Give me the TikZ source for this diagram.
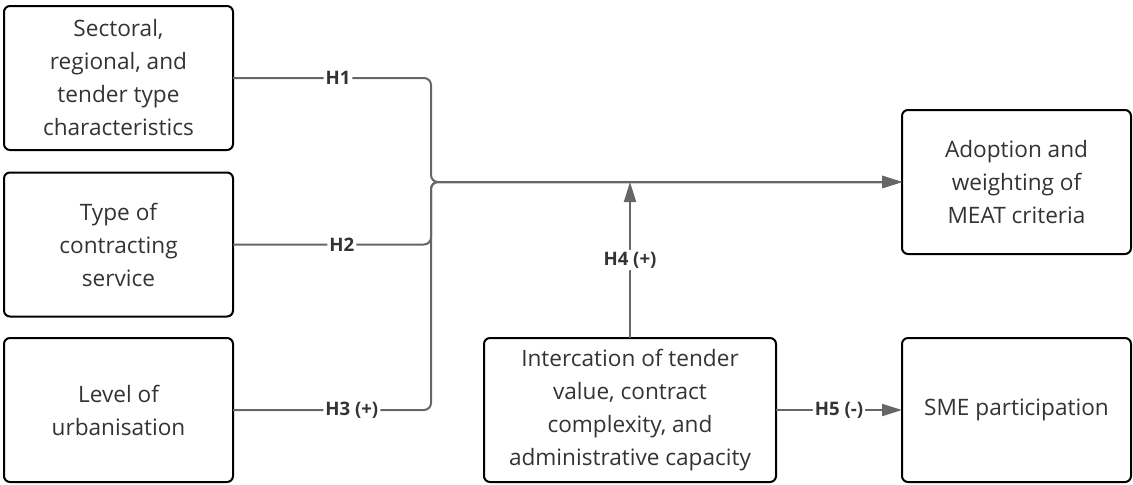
\documentclass[tikz,border=0pt]{standalone}
\usepackage{fontspec}
\setmainfont{Open Sans}
\usepackage{tikz}
\usetikzlibrary{arrows.meta}
\definecolor{linegray}{HTML}{666666}
\definecolor{textgray}{HTML}{333333}

\begin{document}
\begin{tikzpicture}[x=0.5pt,y=-0.5pt,
		box/.style={draw=black, line width=1pt, rounded corners=3pt, align=center, text=textgray,
			font=\fontsize{11.3}{16.5}\selectfont, inner sep=0pt, outer sep=0pt,
			minimum width=114.5pt, minimum height=72pt},
		link/.style={draw=linegray, line width=1pt, rounded corners=3.5pt},
		tip/.style={-{Triangle[length=10pt,width=6pt]}},
		hyp/.style={fill=white, text=textgray, font=\bfseries\fontsize{9.3}{10}\selectfont, inner sep=1pt}]
			\useasboundingbox (0,0) rectangle (1133,484);
			
			\node[box] (sect) at (118.5,78) {Sectoral,\\regional, and\\tender type\\characteristics};
			\node[box] (serv) at (118.5,244.5) {Type of\\contracting\\service};
			\node[box] (urban) at (118.5,410) {Level of\\urbanisation};
			
			\node[box] (meat) at (1016.5,182) {Adoption and\\weighting of\\MEAT criteria};
			\node[box, minimum width=146pt] (inter) at (630,410) {Intercation of tender\\value, contract\\complexity, and\\administrative capacity};
			\node[box] (sme) at (1016.5,410) {SME participation};
			
			\coordinate (join) at (431,182);
			
			\draw[link,tip] (sect.east) -- node[hyp,pos=0.53] {H1} (join |- sect.east) -- (join) -- (meat.west);
			\draw[link,tip] (serv.east) -- node[hyp,pos=0.55] {H2} (join |- serv.east) -- (join) -- (meat.west);
			\draw[link,tip] (urban.east) -- node[hyp,pos=0.6] {H3 (+)} (join |- urban.east) -- (join) -- (meat.west);
			
			\draw[link,tip] (inter.north) -- node[hyp] {H4 (+)} (inter.north |- meat.west);
			\draw[link,tip] (inter.east) -- node[hyp] {H5 (-)} (sme.west);
			
		\end{tikzpicture}
\end{document}
